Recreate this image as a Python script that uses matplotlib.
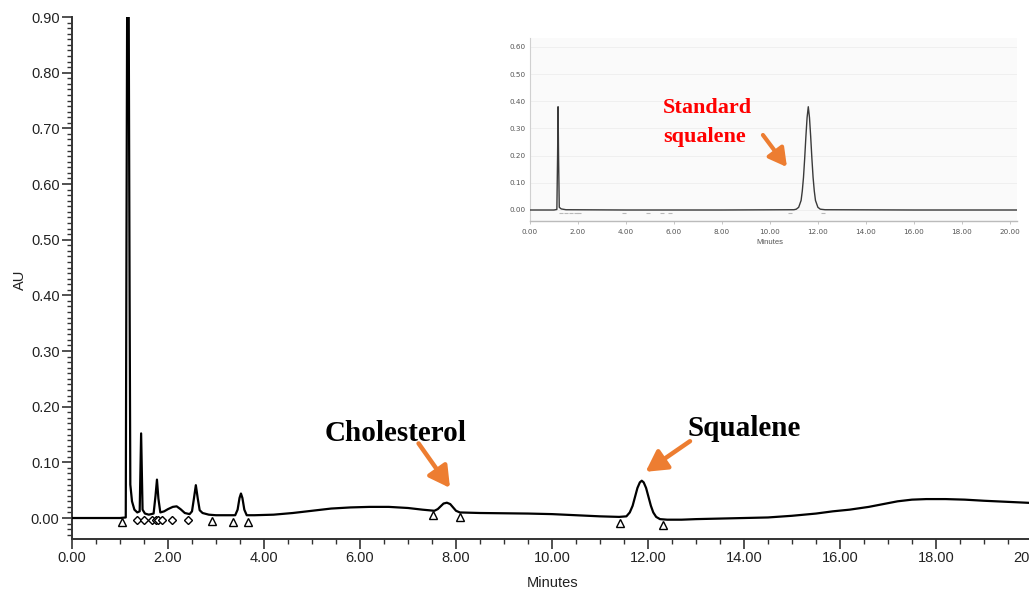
import matplotlib
matplotlib.use("Agg")
import matplotlib.pyplot as plt
from matplotlib.ticker import MultipleLocator, FormatStrFormatter

# ---- main chromatogram (sample) : retention time (min) vs absorbance (AU)
sample_time = [0.00, 0.50, 1.00, 1.12, 1.135, 1.15, 1.18, 1.20, 1.215, 1.25, 1.30, 1.36,
               1.41, 1.44, 1.47, 1.52, 1.60, 1.70, 1.74, 1.77, 1.80, 1.84, 1.92, 2.00,
               2.10, 2.18, 2.26, 2.35, 2.45, 2.50, 2.54, 2.58, 2.62, 2.66, 2.72, 2.85,
               3.00, 3.20, 3.40, 3.45, 3.49, 3.52, 3.55, 3.59, 3.64, 3.80, 4.20, 4.60,
               5.00, 5.40, 5.80, 6.20, 6.60, 7.00, 7.30, 7.55, 7.62, 7.68, 7.74, 7.81,
               7.88, 7.94, 8.00, 8.08, 8.50, 9.00, 9.50, 10.00, 10.50, 11.00, 11.40, 11.55,
               11.62, 11.68, 11.73, 11.78, 11.83, 11.87, 11.91, 11.96, 12.01, 12.06, 12.11,
               12.17, 12.25, 12.40, 12.70, 13.00, 13.50, 14.00, 14.50, 15.00, 15.50, 15.85,
               16.20, 16.60, 16.90, 17.20, 17.50, 17.80, 18.20, 18.60, 19.00, 19.50, 20.00]
sample_au = [0.000, 0.000, 0.000, 0.001, 0.500, 0.950, 0.950, 0.400, 0.060, 0.030, 0.015, 0.010,
             0.012, 0.152, 0.015, 0.008, 0.006, 0.008, 0.040, 0.069, 0.035, 0.010, 0.012, 0.016,
             0.020, 0.021, 0.016, 0.009, 0.007, 0.012, 0.035, 0.059, 0.035, 0.014, 0.009, 0.006,
             0.005, 0.005, 0.005, 0.015, 0.036, 0.044, 0.036, 0.015, 0.005, 0.005, 0.006, 0.009,
             0.013, 0.017, 0.019, 0.020, 0.020, 0.018, 0.015, 0.013, 0.016, 0.021, 0.026, 0.0275,
             0.025, 0.019, 0.013, 0.010, 0.009, 0.0085, 0.008, 0.007, 0.005, 0.003, 0.002, 0.003,
             0.010, 0.022, 0.038, 0.054, 0.064, 0.067, 0.064, 0.054, 0.038, 0.022, 0.010,
             0.002, -0.002, -0.003, -0.003, -0.002, -0.001, 0.000, 0.001, 0.004, 0.008, 0.012,
             0.015, 0.020, 0.025, 0.030, 0.033, 0.034, 0.034, 0.033, 0.031, 0.029, 0.027]

# integration start/end markers
tri_time = [1.04, 2.92, 3.35, 3.67, 7.52, 8.08, 11.42, 12.31]
tri_au = [-0.0066, -0.0054, -0.0078, -0.0078, 0.0054, 0.0012, -0.0095, -0.0126]
dia_time = [1.35, 1.50, 1.66, 1.74, 1.80, 1.88, 2.09, 2.42]
dia_au = [-0.0036, -0.0036, -0.0036, -0.0036, -0.0036, -0.0036, -0.0036, -0.0036]

# ---- inset chromatogram (squalene standard)
std_time = [0.00, 1.00, 1.12, 1.15, 1.17, 1.19, 1.22, 1.30, 1.50, 4.00, 8.00, 11.00,
            11.10, 11.20, 11.30, 11.35, 11.40, 11.45, 11.50, 11.55, 11.60, 11.65, 11.70,
            11.75, 11.80, 11.85, 11.90, 12.00, 12.10, 12.30, 16.00, 20.30]
std_au = [0.000, 0.000, 0.002, 0.200, 0.380, 0.200, 0.010, 0.004, 0.001, 0.000, 0.000, 0.001,
          0.003, 0.010, 0.035, 0.070, 0.120, 0.190, 0.270, 0.340, 0.380, 0.340, 0.270,
          0.190, 0.120, 0.070, 0.035, 0.010, 0.003, 0.001, 0.000, 0.000]
std_mark_time = [1.30, 1.50, 1.70, 1.90, 2.05, 3.90, 4.90, 5.50, 5.85, 10.85, 12.20]
std_mark_au = [-0.012] * 11

main_xticks = [0, 2, 4, 6, 8, 10, 12, 14, 16, 18, 20]
inset_xticks = [0, 2, 4, 6, 8, 10, 12, 14, 16, 18, 20]
inset_yticks = [0.0, 0.1, 0.2, 0.3, 0.4, 0.5, 0.6]

ORANGE = "#ED7D31"
W, H = 1029, 594

fig = plt.figure(figsize=(W / 100, H / 100), dpi=100)
fig.patch.set_facecolor("white")

# ---------------- main axes ----------------
ax = fig.add_axes([72 / W, 1 - 539 / H, 960 / W, (539 - 17) / H])
ax.plot(sample_time, sample_au, color="black", lw=1.6, solid_joinstyle="round", zorder=3)
ax.plot(tri_time, tri_au, linestyle="none", marker="^", ms=6, mfc="white", mec="black",
        mew=1.0, zorder=4)
ax.plot(dia_time, dia_au, linestyle="none", marker="D", ms=4.2, mfc="white", mec="black",
        mew=1.0, zorder=4)

ax.set_xlim(0, 20)
ax.set_ylim(-0.0377, 0.90)
ax.set_xticks(main_xticks)
ax.xaxis.set_major_formatter(FormatStrFormatter("%.2f"))
ax.xaxis.set_minor_locator(MultipleLocator(0.5))
ax.yaxis.set_major_locator(MultipleLocator(0.1))
ax.yaxis.set_major_formatter(FormatStrFormatter("%.2f"))
ax.yaxis.set_minor_locator(MultipleLocator(0.01))
for s in ("top", "right"):
    ax.spines[s].set_visible(False)
for s in ("left", "bottom"):
    ax.spines[s].set_color("#333333")
    ax.spines[s].set_linewidth(1.4)
ax.tick_params(axis="both", which="major", direction="out", length=7, width=1.2,
               color="#333333", labelsize=10.5, labelcolor="#222222", pad=2)
ax.tick_params(axis="both", which="minor", direction="out", length=3.5, width=1.0,
               color="#333333")
for lab in ax.get_xticklabels() + ax.get_yticklabels():
    lab.set_fontfamily("Liberation Sans")

fig.text(553 / W, 1 - 583 / H, "Minutes", ha="center", va="center", fontsize=10.5,
         family="Liberation Sans", color="#222222")
fig.text(20 / W, 1 - 280 / H, "AU", ha="center", va="center", rotation=90, fontsize=10.5,
         family="Liberation Sans", color="#222222")

# peak labels and arrows
ax.text(6.75, 0.138, "Cholesterol", ha="center", va="baseline", fontsize=21,
        family="Liberation Serif", fontweight="bold", color="black")
ax.text(14.0, 0.147, "Squalene", ha="center", va="baseline", fontsize=21,
        family="Liberation Serif", fontweight="bold", color="black")
arrow_kw = dict(arrowstyle="-|>,head_length=0.9,head_width=0.5", color=ORANGE, lw=3.2,
                shrinkA=0, shrinkB=0, mutation_scale=14)
ax.annotate("", xy=(7.875, 0.054), xytext=(7.22, 0.134), arrowprops=arrow_kw)
ax.annotate("", xy=(11.95, 0.083), xytext=(12.875, 0.138), arrowprops=arrow_kw)

# ---------------- inset axes ----------------
ins = fig.add_axes([530 / W, 1 - 221 / H, 487 / W, (221 - 38) / H])
ins.set_facecolor("#fafafa")
ins.plot(std_time, std_au, color="#3a3a3a", lw=1.0, zorder=3)
ins.plot(std_mark_time, std_mark_au, linestyle="none", marker="_", ms=3, mew=0.8,
         color="#b8b8b8", zorder=2)
ins.set_xlim(0, 20.3)
ins.set_ylim(-0.0405, 0.633)
ins.set_xticks(inset_xticks)
ins.set_yticks(inset_yticks)
ins.xaxis.set_major_formatter(FormatStrFormatter("%.2f"))
ins.yaxis.set_major_formatter(FormatStrFormatter("%.2f"))
ins.grid(axis="y", color="#eeeeee", lw=0.6)
for s in ("top", "right"):
    ins.spines[s].set_visible(False)
ins.spines["left"].set_color("#d0d0d0")
ins.spines["left"].set_linewidth(0.8)
ins.spines["bottom"].set_color("#bbbbbb")
ins.spines["bottom"].set_linewidth(1.0)
ins.tick_params(axis="both", which="major", direction="out", length=2.5, width=0.6,
                color="#bbbbbb", labelsize=5.2, labelcolor="#555555", pad=3)
ins.tick_params(axis="y", length=0, pad=3.5)
fig.text(770 / W, 1 - 242 / H, "Minutes", ha="center", va="center", fontsize=5.5,
         family="Liberation Sans", color="#555555")

ins.text(5.54, 0.357, "Standard", ha="left", va="baseline", fontsize=16,
         family="Liberation Serif", fontweight="bold", color="#ff0000")
ins.text(5.54, 0.25, "squalene", ha="left", va="baseline", fontsize=16,
         family="Liberation Serif", fontweight="bold", color="#ff0000")
ins.annotate("", xy=(10.71, 0.158), xytext=(9.71, 0.276),
             arrowprops=dict(arrowstyle="-|>,head_length=0.9,head_width=0.5", color=ORANGE,
                             lw=3.0, shrinkA=0, shrinkB=0, mutation_scale=12))

fig.savefig("out.png", dpi=100, facecolor="white")
